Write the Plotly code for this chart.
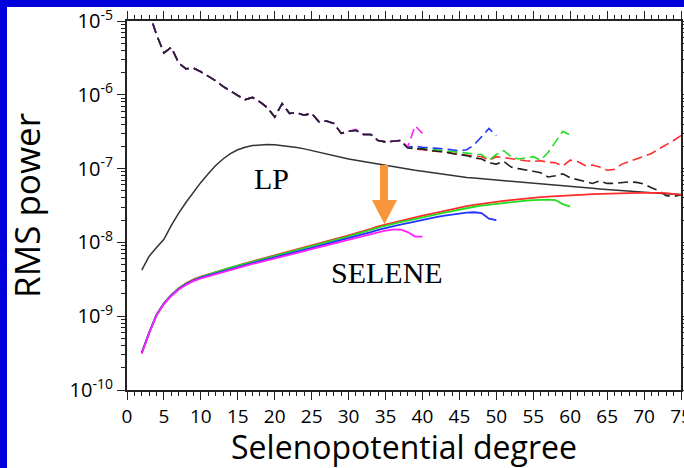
import plotly.graph_objects as go

# ---------------- data ----------------
deg_lp = list(range(2, 76))
lp_power = [4.2e-9, 6.5e-9, 8.5e-9, 1.1e-8, 1.7e-8, 2.5e-8, 3.5e-8, 4.8e-8, 6.5e-8,
            8.5e-8, 1.1e-7, 1.35e-7, 1.6e-7, 1.8e-7, 1.95e-7, 2.05e-7, 2.1e-7, 2.12e-7,
            2.1e-7, 2.05e-7, 2.0e-7, 1.93e-7, 1.85e-7, 1.75e-7, 1.65e-7, 1.56e-7, 1.48e-7,
            1.41e-7, 1.35e-7, 1.3e-7, 1.25e-7, 1.2e-7, 1.15e-7, 1.1e-7, 1.05e-7, 1.01e-7,
            9.8e-8, 9.5e-8, 9.2e-8, 8.9e-8, 8.6e-8, 8.3e-8, 8.0e-8, 7.8e-8, 7.6e-8, 7.45e-8,
            7.3e-8, 7.15e-8, 7.0e-8, 6.85e-8, 6.7e-8, 6.55e-8, 6.4e-8, 6.25e-8, 6.1e-8,
            6.0e-8, 5.9e-8, 5.8e-8, 5.7e-8, 5.6e-8, 5.5e-8, 5.4e-8, 5.3e-8, 5.2e-8, 5.1e-8,
            5.02e-8, 4.95e-8, 4.88e-8, 4.8e-8, 4.72e-8, 4.65e-8, 4.58e-8, 4.5e-8, 4.45e-8]

lp_error = [2.2e-5, 1.3e-5, 6.5e-6, 3.7e-6, 4.4e-6, 2.7e-6, 2.25e-6, 2.3e-6, 2.05e-6,
            1.8e-6, 1.55e-6, 1.3e-6, 1.12e-6, 9.8e-7, 8.6e-7, 9.2e-7, 8.0e-7, 6.7e-7,
            5.0e-7, 7.6e-7, 5.6e-7, 5.7e-7, 5.3e-7, 5.6e-7, 4.3e-7, 4.4e-7, 4.1e-7, 3.0e-7,
            3.2e-7, 3.3e-7, 2.9e-7, 2.9e-7, 2.4e-7, 2.3e-7, 2.35e-7, 2.4e-7, 1.9e-7,
            1.85e-7, 1.85e-7, 1.75e-7, 1.72e-7, 1.7e-7, 1.6e-7, 1.55e-7, 1.5e-7, 1.4e-7,
            1.35e-7, 1.2e-7, 1.15e-7, 1.25e-7, 1.05e-7, 1.0e-7, 9.5e-8, 9.2e-8, 8.8e-8,
            7.7e-8, 8.0e-8, 8.5e-8, 7.5e-8, 7.1e-8, 6.6e-8, 6.3e-8, 6.8e-8, 6.3e-8, 6.3e-8,
            6.4e-8, 6.6e-8, 6.5e-8, 6.2e-8, 5.5e-8, 5.0e-8, 4.3e-8, 4.2e-8, 4.4e-8]

# SELENE solutions, degree 75 / 60 / 50 / 40
deg_75 = list(range(2, 76))
sel75_power = [3.2e-10, 6.0e-10, 1.05e-9, 1.5e-9, 1.95e-9, 2.4e-9, 2.8e-9, 3.15e-9, 3.45e-9,
               3.7e-9, 4.0e-9, 4.3e-9, 4.6e-9, 4.9e-9, 5.2e-9, 5.55e-9, 5.9e-9, 6.25e-9,
               6.6e-9, 7.05e-9, 7.5e-9, 8.0e-9, 8.5e-9, 9.1e-9, 9.7e-9, 1.03e-8, 1.1e-8,
               1.17e-8, 1.25e-8, 1.33e-8, 1.42e-8, 1.53e-8, 1.65e-8, 1.75e-8, 1.85e-8,
               1.95e-8, 2.05e-8, 2.17e-8, 2.3e-8, 2.42e-8, 2.55e-8, 2.67e-8, 2.8e-8, 2.95e-8,
               3.1e-8, 3.22e-8, 3.35e-8, 3.45e-8, 3.55e-8, 3.65e-8, 3.75e-8, 3.85e-8,
               3.95e-8, 4.02e-8, 4.1e-8, 4.18e-8, 4.25e-8, 4.3e-8, 4.35e-8, 4.4e-8, 4.45e-8,
               4.5e-8, 4.55e-8, 4.58e-8, 4.6e-8, 4.63e-8, 4.65e-8, 4.68e-8, 4.7e-8, 4.7e-8,
               4.7e-8, 4.65e-8, 4.55e-8, 4.4e-8]
sel75_error = [2.2e-5, 1.3e-5, 6.5e-6, 3.7e-6, 4.4e-6, 2.7e-6, 2.25e-6, 2.3e-6, 2.05e-6,
               1.8e-6, 1.55e-6, 1.3e-6, 1.12e-6, 9.8e-7, 8.6e-7, 9.2e-7, 8.0e-7, 6.7e-7,
               5.0e-7, 7.6e-7, 5.6e-7, 5.7e-7, 5.3e-7, 5.6e-7, 4.3e-7, 4.4e-7, 4.1e-7, 3.0e-7,
               3.2e-7, 3.3e-7, 2.9e-7, 2.9e-7, 2.4e-7, 2.3e-7, 2.35e-7, 2.4e-7, 1.95e-7,
               1.85e-7, 1.8e-7, 1.75e-7, 1.7e-7, 1.68e-7, 1.62e-7, 1.55e-7, 1.5e-7, 1.48e-7,
               1.45e-7, 1.3e-7, 1.45e-7, 1.4e-7, 1.35e-7, 1.3e-7, 1.28e-7, 1.25e-7, 1.28e-7,
               1.22e-7, 1.2e-7, 1.08e-7, 1.3e-7, 1.25e-7, 1.1e-7, 1.12e-7, 1.05e-7, 9.5e-8,
               9.8e-8, 1.15e-7, 1.25e-7, 1.35e-7, 1.45e-7, 1.6e-7, 1.85e-7, 2.1e-7, 2.4e-7,
               2.8e-7]

deg_60 = list(range(2, 61))
sel60_power = [3.2e-10, 6.0e-10, 1.05e-9, 1.5e-9, 1.94e-9, 2.38e-9, 2.78e-9, 3.12e-9, 3.42e-9,
               3.66e-9, 3.96e-9, 4.25e-9, 4.55e-9, 4.84e-9, 5.13e-9, 5.47e-9, 5.8e-9, 6.15e-9,
               6.48e-9, 6.9e-9, 7.35e-9, 7.83e-9, 8.3e-9, 8.88e-9, 9.45e-9, 1.0e-8, 1.07e-8,
               1.14e-8, 1.21e-8, 1.29e-8, 1.37e-8, 1.48e-8, 1.59e-8, 1.69e-8, 1.78e-8,
               1.88e-8, 1.97e-8, 2.08e-8, 2.2e-8, 2.31e-8, 2.43e-8, 2.54e-8, 2.66e-8, 2.8e-8,
               2.93e-8, 3.04e-8, 3.16e-8, 3.25e-8, 3.34e-8, 3.43e-8, 3.52e-8, 3.6e-8, 3.68e-8,
               3.73e-8, 3.78e-8, 3.8e-8, 3.75e-8, 3.3e-8, 3.05e-8]
sel60_error = [2.2e-5, 1.3e-5, 6.5e-6, 3.7e-6, 4.4e-6, 2.7e-6, 2.25e-6, 2.3e-6, 2.05e-6,
               1.8e-6, 1.55e-6, 1.3e-6, 1.12e-6, 9.8e-7, 8.6e-7, 9.2e-7, 8.0e-7, 6.7e-7,
               5.0e-7, 7.6e-7, 5.6e-7, 5.7e-7, 5.3e-7, 5.6e-7, 4.3e-7, 4.4e-7, 4.1e-7, 3.0e-7,
               3.2e-7, 3.3e-7, 2.9e-7, 2.9e-7, 2.4e-7, 2.3e-7, 2.35e-7, 2.4e-7, 1.95e-7,
               1.9e-7, 1.85e-7, 1.8e-7, 1.78e-7, 1.75e-7, 1.7e-7, 1.65e-7, 1.6e-7, 1.58e-7,
               1.55e-7, 1.3e-7, 1.55e-7, 1.75e-7, 1.45e-7, 1.35e-7, 1.4e-7, 1.45e-7, 1.3e-7,
               1.65e-7, 2.3e-7, 3.2e-7, 2.85e-7]

deg_50 = list(range(2, 51))
sel50_power = [3.2e-10, 6.0e-10, 1.04e-9, 1.48e-9, 1.91e-9, 2.34e-9, 2.72e-9, 3.05e-9, 3.33e-9,
               3.56e-9, 3.84e-9, 4.12e-9, 4.39e-9, 4.66e-9, 4.93e-9, 5.25e-9, 5.56e-9, 5.88e-9,
               6.19e-9, 6.6e-9, 7.0e-9, 7.45e-9, 7.9e-9, 8.43e-9, 8.96e-9, 9.5e-9, 1.01e-8,
               1.07e-8, 1.14e-8, 1.21e-8, 1.29e-8, 1.38e-8, 1.48e-8, 1.57e-8, 1.65e-8,
               1.74e-8, 1.82e-8, 1.92e-8, 2.02e-8, 2.11e-8, 2.21e-8, 2.3e-8, 2.39e-8, 2.47e-8,
               2.53e-8, 2.56e-8, 2.5e-8, 2.1e-8, 2.0e-8]
sel50_error = [2.2e-5, 1.3e-5, 6.5e-6, 3.7e-6, 4.4e-6, 2.7e-6, 2.25e-6, 2.3e-6, 2.05e-6,
               1.8e-6, 1.55e-6, 1.3e-6, 1.12e-6, 9.8e-7, 8.6e-7, 9.2e-7, 8.0e-7, 6.7e-7,
               5.0e-7, 7.6e-7, 5.6e-7, 5.7e-7, 5.3e-7, 5.6e-7, 4.3e-7, 4.4e-7, 4.1e-7, 3.0e-7,
               3.2e-7, 3.3e-7, 2.9e-7, 2.9e-7, 2.4e-7, 2.3e-7, 2.35e-7, 2.4e-7, 1.95e-7,
               2.0e-7, 1.95e-7, 1.9e-7, 1.88e-7, 1.85e-7, 1.8e-7, 1.75e-7, 1.8e-7, 2.1e-7,
               2.7e-7, 3.5e-7, 2.8e-7]

deg_40 = list(range(2, 41))
sel40_power = [3.1e-10, 5.9e-10, 1.03e-9, 1.46e-9, 1.88e-9, 2.3e-9, 2.67e-9, 2.99e-9, 3.26e-9,
               3.48e-9, 3.75e-9, 4.02e-9, 4.28e-9, 4.54e-9, 4.8e-9, 5.1e-9, 5.4e-9, 5.7e-9,
               6.0e-9, 6.38e-9, 6.77e-9, 7.2e-9, 7.62e-9, 8.1e-9, 8.6e-9, 9.1e-9, 9.65e-9,
               1.02e-8, 1.08e-8, 1.14e-8, 1.21e-8, 1.29e-8, 1.37e-8, 1.44e-8, 1.49e-8, 1.5e-8,
               1.38e-8, 1.2e-8, 1.2e-8]
sel40_error = [2.2e-5, 1.3e-5, 6.5e-6, 3.7e-6, 4.4e-6, 2.7e-6, 2.25e-6, 2.3e-6, 2.05e-6,
               1.8e-6, 1.55e-6, 1.3e-6, 1.12e-6, 9.8e-7, 8.6e-7, 9.2e-7, 8.0e-7, 6.7e-7,
               5.0e-7, 7.6e-7, 5.6e-7, 5.7e-7, 5.3e-7, 5.6e-7, 4.3e-7, 4.4e-7, 4.1e-7, 3.0e-7,
               3.2e-7, 3.4e-7, 2.9e-7, 2.9e-7, 2.4e-7, 2.3e-7, 2.35e-7, 2.4e-7, 1.95e-7,
               3.8e-7, 3.0e-7]

y_tickvals = [1e-10, 1e-9, 1e-8, 1e-7, 1e-6, 1e-5]
y_ticktext = ["10<sup>-10</sup>", "10<sup>-9</sup>", "10<sup>-8</sup>",
              "10<sup>-7</sup>", "10<sup>-6</sup>", "10<sup>-5</sup>"]
y_minor = [m * d for d in [1e-10, 1e-9, 1e-8, 1e-7, 1e-6] for m in range(2, 10)]

# ---------------- styles ----------------
RED, GREEN, BLUE, MAGENTA = "#FF2A2A", "#22DD22", "#2233FF", "#FF22FF"
DASH = "10px,5px"
FRAME = "#0000DC"

fig = go.Figure()

# dashed (error) curves
for d, v, c in [(deg_75, sel75_error, RED), (deg_60, sel60_error, GREEN),
                (deg_50, sel50_error, BLUE), (deg_40, sel40_error, MAGENTA)]:
    fig.add_trace(go.Scatter(x=d, y=v, mode="lines",
                             line=dict(color=c, width=1.6, dash=DASH)))
fig.add_trace(go.Scatter(x=deg_lp, y=lp_error, mode="lines",
                         line=dict(color="#222222", width=1.6, dash=DASH)))

# LP power
fig.add_trace(go.Scatter(x=deg_lp, y=lp_power, mode="lines",
                         line=dict(color="#333333", width=1.5)))

# SELENE power curves
for d, v, c in [(deg_75, sel75_power, RED), (deg_60, sel60_power, GREEN),
                (deg_50, sel50_power, BLUE), (deg_40, sel40_power, MAGENTA)]:
    fig.add_trace(go.Scatter(x=d, y=v, mode="lines", line=dict(color=c, width=1.8)))

FONT = "Open Sans"

fig.update_layout(
    width=684, height=468,
    margin=dict(l=127, r=3, t=21, b=78),
    paper_bgcolor="white",
    plot_bgcolor="white",
    showlegend=False,
    font=dict(family=FONT, color="black"),
    shapes=[
        # blue slide frame (left and top strips)
        dict(type="rect", xref="paper", yref="paper", layer="above",
             x0=-127 / 554, x1=(7 - 127) / 554, y0=-78 / 369, y1=1 + 21 / 369,
             fillcolor=FRAME, line=dict(width=0)),
        dict(type="rect", xref="paper", yref="paper", layer="above",
             x0=-127 / 554, x1=1 + 3 / 554, y0=(390 - 7) / 369, y1=1 + 21 / 369,
             fillcolor=FRAME, line=dict(width=0)),
        # orange arrow: shaft
        dict(type="rect", xref="paper", yref="paper", layer="above",
             x0=0.4567, x1=0.4711, y0=0.5122, y1=0.6098,
             fillcolor="#F7963A", line=dict(width=0)),
        # orange arrow: head
        dict(type="path", xref="paper", yref="paper", layer="above",
             path="M 0.4422 0.5149 L 0.4874 0.5149 L 0.4648 0.4490 Z",
             fillcolor="#F7963A", line=dict(width=0)),
    ],
    annotations=[
        dict(text="LP", xref="paper", yref="paper", x=0.26, y=0.5745,
             xanchor="center", yanchor="middle", showarrow=False,
             font=dict(family="Liberation Serif", size=30, color="black")),
        dict(text="SELENE", xref="paper", yref="paper", x=0.4693, y=0.3171,
             xanchor="center", yanchor="middle", showarrow=False,
             font=dict(family="Liberation Serif", size=30, color="black")),
    ],
)

fig.update_xaxes(
    range=[0, 75], tickmode="linear", tick0=0, dtick=5,
    ticks="outside", ticklen=8, tickwidth=1, tickcolor="#222",
    minor=dict(dtick=1, tick0=0, ticks="outside", ticklen=4, tickwidth=1, tickcolor="#222"),
    showline=True, linecolor="#222", linewidth=2, mirror="allticks",
    showgrid=False, zeroline=False, ticklabeloverflow="allow",
    tickfont=dict(family=FONT, size=19, color="black"),
    title=dict(text="Selenopotential degree", standoff=13,
               font=dict(family=FONT, size=32, color="black")),
    automargin=False,
)
fig.update_yaxes(
    type="log", range=[-10, -5],
    tickmode="array", tickvals=y_tickvals, ticktext=y_ticktext,
    ticks="outside", ticklen=8, tickwidth=1, tickcolor="#222",
    minor=dict(tickmode="array", tickvals=y_minor, ticks="outside", ticklen=4,
               tickwidth=1, tickcolor="#222"),
    showline=True, linecolor="#222", linewidth=2, mirror="allticks",
    showgrid=False, zeroline=False,
    tickfont=dict(family=FONT, size=20, color="black"),
    title=dict(text="RMS power", standoff=18,
               font=dict(family=FONT, size=35, color="black")),
    automargin=False,
)

fig.write_html("out.html")
